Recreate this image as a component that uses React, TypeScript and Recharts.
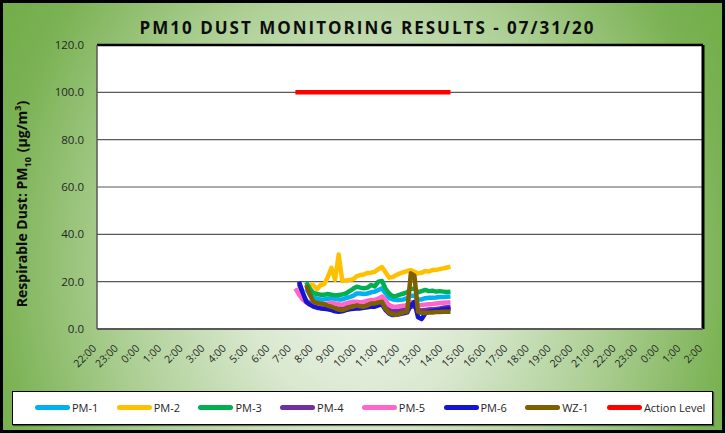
import React from 'react';
import { LineChart, Line, XAxis, YAxis, CartesianGrid, ReferenceLine } from 'recharts';

// sample times (10 min readings)
const times = [
  '7:10', '7:20', '7:30', '7:40', '7:50', '8:00', '8:10', '8:20', '8:30', '8:40', '8:50',
  '9:00', '9:10', '9:20', '9:30', '9:40', '9:50', '10:00', '10:10', '10:20', '10:30', '10:40',
  '10:50', '11:00', '11:10', '11:20', '11:30', '11:40', '11:50', '12:00', '12:10', '12:20',
  '12:30', '12:40', '12:50', '13:00', '13:10', '13:20', '13:30', '13:40', '13:50', '14:00',
  '14:10', '14:20',
];

const pm1 = [
  null, null, null, 17.0, 14.5, 13.2, 12.8, 12.5, 12.5, 12.8, 13.0, 12.8, 12.5, 12.5, 13.0,
  13.5, 14.0, 15.0, 15.0, 14.8, 15.0, 15.5, 15.8, 16.5, 17.2, 15.0, 13.0, 12.5, 12.3, 12.3,
  12.5, 13.0, 14.0, 14.0, 12.5, 12.5, 13.0, 13.2, 13.2, 13.3, 13.5, 13.5, 13.6, 13.7,
];
const pm2 = [
  null, null, null, null, 18.8, 18.5, 16.8, 18.6, 19.0, 22.0, 25.8, 20.8, 31.5, 20.3, 20.5,
  20.7, 21.0, 22.3, 22.8, 23.0, 23.7, 23.8, 24.2, 25.3, 26.2, 24.0, 21.7, 22.0, 22.8, 23.5,
  24.0, 24.5, 24.9, 24.2, 23.5, 23.8, 24.5, 24.3, 24.9, 25.0, 25.3, 25.6, 26.0, 26.3,
];
const pm3 = [
  null, null, null, 19.8, 17.0, 15.2, 14.8, 14.5, 14.5, 14.8, 14.5, 14.2, 14.4, 14.6, 15.0,
  16.0, 17.0, 17.9, 17.5, 17.2, 17.5, 18.6, 18.0, 20.0, 20.3, 17.0, 15.0, 13.7, 14.0, 14.5,
  15.0, 15.5, 17.0, 17.0, 15.5, 16.0, 16.5, 16.0, 16.2, 15.8, 16.0, 15.8, 15.6, 15.8,
];
const pm4 = [
  null, 19.0, 15.0, 12.0, 10.8, 9.8, 9.6, 9.4, 9.3, 9.2, 9.0, 8.8, 8.6, 8.8, 9.2,
  9.6, 9.8, 10.0, 9.8, 10.0, 10.4, 10.8, 10.6, 11.0, 11.5, 9.5, 8.0, 7.6, 7.6, 7.8,
  8.0, 8.3, 9.5, 9.5, 8.0, 7.8, 8.0, 8.2, 8.3, 8.5, 8.7, 9.0, 9.2, 9.4,
];
const pm5 = [
  17.2, 14.5, 12.5, 11.3, 10.5, 10.1, 10.1, 10.3, 10.5, 10.8, 11.0, 10.8, 10.5, 10.2, 10.8,
  11.2, 11.5, 11.5, 11.2, 11.5, 12.0, 12.3, 12.3, 12.8, 13.7, 12.0, 10.1, 9.5, 9.4, 9.6,
  9.8, 10.2, 11.5, 11.0, 10.0, 10.1, 10.3, 10.5, 10.6, 10.8, 11.0, 11.1, 11.2, 11.3,
];
const pm6 = [
  null, 20.0, 15.5, 11.5, 10.3, 9.5, 9.0, 8.7, 8.5, 8.3, 8.0, 7.5, 7.3, 7.5, 8.0,
  8.3, 8.5, 8.7, 8.7, 9.0, 9.2, 9.5, 9.4, 10.0, 10.4, 8.0, 6.5, 5.9, 6.0, 6.3,
  6.6, 7.0, 10.0, 11.5, 5.0, 4.2, 6.5, 7.3, 7.5, 7.8, 8.0, 8.3, 8.5, 8.7,
];
const wz1 = [
  null, null, null, 18.6, 14.5, 11.5, 11.0, 10.8, 10.5, 9.8, 9.4, 8.8, 8.2, 8.0, 8.5,
  9.2, 9.4, 10.0, 9.6, 9.4, 10.0, 10.8, 10.8, 11.2, 11.5, 8.5, 6.8, 6.2, 6.0, 6.5,
  7.0, 7.5, 23.5, 22.5, 7.3, 6.8, 6.8, 7.0, 7.0, 7.2, 7.2, 7.3, 7.3, 7.3,
];

const actionTimes = ['7:10', '14:20'];
const actionValues = [100, 100];

const hourLabels = [
  '22:00', '23:00', '0:00', '1:00', '2:00', '3:00', '4:00', '5:00', '6:00', '7:00', '8:00',
  '9:00', '10:00', '11:00', '12:00', '13:00', '14:00', '15:00', '16:00', '17:00', '18:00',
  '19:00', '20:00', '21:00', '22:00', '23:00', '0:00', '1:00', '2:00',
];
const yTicks = [0, 20, 40, 60, 80, 100, 120];

const series = [
  { key: 'pm1', name: 'PM-1', color: '#00B0F0', values: pm1 },
  { key: 'pm2', name: 'PM-2', color: '#FFC000', values: pm2 },
  { key: 'pm3', name: 'PM-3', color: '#00B050', values: pm3 },
  { key: 'pm4', name: 'PM-4', color: '#7030A0', values: pm4 },
  { key: 'pm5', name: 'PM-5', color: '#FF66CC', values: pm5 },
  { key: 'pm6', name: 'PM-6', color: '#1414D2', values: pm6 },
  { key: 'wz1', name: 'WZ-1', color: '#7F6000', values: wz1 },
];
const actionColor = '#FF0000';

const toMin = (s: string) => {
  const [h, m] = s.split(':').map(Number);
  return h * 60 + m;
};

const rows = times.map((t, i) => {
  const r: Record<string, number | null> = { t: toMin(t) };
  series.forEach((s) => (r[s.key] = s.values[i]));
  return r;
});
const actionRows = actionTimes.map((t, i) => ({ t: toMin(t), v: actionValues[i] }));

// axis runs from 22:00 the day before to 2:00 the day after
const xTicks = hourLabels.map((_, i) => -120 + i * 60);

const FONT = '"Open Sans", "DejaVu Sans", sans-serif';

const XTick = ({ x, y, index }: any) => (
  <text
    x={x}
    y={y + 12}
    transform={`rotate(-45 ${x} ${y + 12})`}
    textAnchor="end"
    fontSize={10.5}
    fontFamily={FONT}
    fill="#262626"
  >
    {hourLabels[index]}
  </text>
);

export default function App() {
  return (
    <div
      style={{
        position: 'absolute',
        left: 0,
        top: 0,
        width: 725,
        height: 433,
        boxSizing: 'border-box',
        border: '3px solid #000',
        background:
          'radial-gradient(ellipse 60% 120% at 50% 62%, #f3f7f0 0%, #d9e8cf 28%, #abce92 58%, #7bb254 85%, #70ad47 100%)',
        fontFamily: FONT,
      }}
    >
      <div
        style={{
          position: 'absolute',
          left: 2,
          top: 13,
          width: 725,
          textAlign: 'center',
          fontSize: 17,
          fontWeight: 700,
          letterSpacing: 2,
          color: '#0d0d0d',
        }}
      >
        PM10 DUST MONITORING RESULTS - 07/31/20
      </div>

      <svg width={40} height={433} style={{ position: 'absolute', left: -3, top: -3 }}>
        <text
          transform="translate(27 204) rotate(-90)"
          textAnchor="middle"
          fontSize={14}
          fontWeight={700}
          fontFamily={FONT}
          fill="#0d0d0d"
        >
          Respirable Dust: PM<tspan fontSize={9} dy={4}>10</tspan>
          <tspan dy={-4} dx={5}>(µg/m</tspan>
          <tspan fontSize={9} dy={-6}>3</tspan>
          <tspan dy={6}>)</tspan>
        </text>
      </svg>

      <div style={{ position: 'absolute', left: -3, top: -3 }}>
        <LineChart
          width={725}
          height={433}
          data={rows}
          margin={{ top: 45, right: 22, bottom: 44, left: 0 }}
        >
          <CartesianGrid vertical={false} stroke="#595959" strokeWidth={1.2} fill="#ffffff" />
          <XAxis
            type="number"
            dataKey="t"
            domain={[-120, 1560]}
            ticks={xTicks}
            interval={0}
            height={60}
            tickLine={false}
            axisLine={{ stroke: '#595959', strokeWidth: 2 }}
            tick={<XTick />}
            allowDataOverflow
          />
          <YAxis
            domain={[0, 120]}
            ticks={yTicks}
            width={97}
            tickLine={false}
            tickMargin={7}
            axisLine={{ stroke: '#595959', strokeWidth: 1.5 }}
            tickFormatter={(v: number) => v.toFixed(1)}
            tick={{ fontSize: 11.5, fill: '#262626', fontFamily: FONT }}
          />
          <ReferenceLine y={120} stroke="#000" strokeWidth={2.5} />
          <ReferenceLine x={1560} stroke="#000" strokeWidth={3} />
          {series.map((s) => (
            <Line
              key={s.key}
              dataKey={s.key}
              name={s.name}
              stroke={s.color}
              strokeWidth={4.5}
              strokeLinejoin="round"
              dot={false}
              connectNulls={false}
              isAnimationActive={false}
            />
          ))}
          <Line
            data={actionRows}
            dataKey="v"
            name="Action Level"
            stroke={actionColor}
            strokeWidth={4.5}
            dot={false}
            isAnimationActive={false}
          />
        </LineChart>
      </div>

      <div
        style={{
          position: 'absolute',
          left: 9,
          top: 388,
          width: 701,
          height: 34,
          boxSizing: 'border-box',
          background: '#fff',
          border: '1.5px solid #000',
          boxShadow: '1px 1px 1px rgba(0,0,0,0.5)',
        }}
      >
        {[...series.map((s) => ({ name: s.name, color: s.color })), { name: 'Action Level', color: actionColor }].map(
          (item, i) => (
            <div
              key={item.name}
              style={{
                position: 'absolute',
                left: 22 + i * 81.7,
                top: 8,
                display: 'flex',
                alignItems: 'center',
                fontSize: 11,
                color: '#262626',
                whiteSpace: 'nowrap',
              }}
            >
              <span
                style={{
                  display: 'inline-block',
                  width: 35,
                  height: 5,
                  borderRadius: 3,
                  background: item.color,
                  marginRight: 2,
                }}
              />
              {item.name}
            </div>
          )
        )}
      </div>
    </div>
  );
}
